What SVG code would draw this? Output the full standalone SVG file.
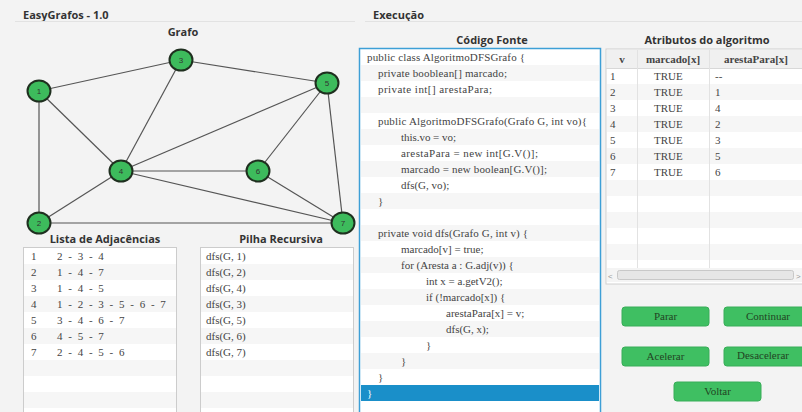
<svg xmlns="http://www.w3.org/2000/svg" width="802" height="412" viewBox="0 0 802 412">
<style>
.h{font-family:"Open Sans","Noto Sans",sans-serif;font-weight:bold;font-size:11px;fill:#333}
.c{font-family:"Liberation Serif",serif;font-size:11px;fill:#444}
.e{stroke:#555;stroke-width:1.2}
.n ellipse{fill:#3dbb5c;stroke:#1f2f1f;stroke-width:2}
.n text{font-family:"Liberation Sans",sans-serif;font-size:8px;fill:#333;text-anchor:middle}
.pan{fill:#fff;stroke:#cccccc;stroke-width:1}
.alt{fill:#f6f6f6}
.btn rect{fill:#3fbf62;stroke:#38ad58}
.btn text{font-family:"Liberation Serif",serif;font-size:11px;fill:#224422;text-anchor:middle}
.th{font-family:"Liberation Serif",serif;font-size:11px;font-weight:bold;fill:#444;text-anchor:middle}
</style>
<rect width="802" height="412" fill="#f3f3f3"/>
<text class="h" x="23" y="19">EasyGrafos - 1.0</text>
<line x1="15" y1="21.5" x2="355" y2="21.5" stroke="#e2e2e2"/>
<text class="h" x="373" y="19">Execução</text>
<line x1="365" y1="21.5" x2="802" y2="21.5" stroke="#e2e2e2"/>
<text class="h" x="183" y="36" text-anchor="middle">Grafo</text>

<g id="edges">
<line class="e" x1="39" y1="91" x2="181" y2="60"/>
<line class="e" x1="39" y1="91" x2="121" y2="171"/>
<line class="e" x1="39" y1="91" x2="39" y2="223"/>
<line class="e" x1="181" y1="60" x2="121" y2="171"/>
<line class="e" x1="181" y1="60" x2="327" y2="83"/>
<line class="e" x1="121" y1="171" x2="327" y2="83"/>
<line class="e" x1="327" y1="83" x2="258" y2="171"/>
<line class="e" x1="327" y1="83" x2="343" y2="223"/>
<line class="e" x1="121" y1="171" x2="258" y2="171"/>
<line class="e" x1="121" y1="171" x2="343" y2="223"/>
<line class="e" x1="258" y1="171" x2="343" y2="223"/>
<line class="e" x1="39" y1="223" x2="121" y2="171"/>
<line class="e" x1="39" y1="223" x2="343" y2="223"/>
</g>
<g id="node1" class="n"><ellipse cx="39" cy="91" rx="11.5" ry="10.5"/><text x="39" y="94">1</text></g>
<g id="node2" class="n"><ellipse cx="39" cy="223" rx="11.5" ry="10.5"/><text x="39" y="226">2</text></g>
<g id="node3" class="n"><ellipse cx="181" cy="60" rx="11.5" ry="10.5"/><text x="181" y="63">3</text></g>
<g id="node4" class="n"><ellipse cx="121" cy="171" rx="11.5" ry="10.5"/><text x="121" y="174">4</text></g>
<g id="node5" class="n"><ellipse cx="327" cy="83" rx="11.5" ry="10.5"/><text x="327" y="86">5</text></g>
<g id="node6" class="n"><ellipse cx="258" cy="171" rx="11.5" ry="10.5"/><text x="258" y="174">6</text></g>
<g id="node7" class="n"><ellipse cx="343" cy="223" rx="11.5" ry="10.5"/><text x="343" y="226">7</text></g>

<g id="lista">
<text class="h" x="105" y="243" text-anchor="middle">Lista de Adjacências</text>
<rect class="pan" x="23.5" y="247.5" width="153" height="170"/>
<rect class="alt" x="24" y="264" width="152" height="16"/>
<rect class="alt" x="24" y="296" width="152" height="16"/>
<rect class="alt" x="24" y="328" width="152" height="16"/>
<rect class="alt" x="24" y="360" width="152" height="16"/>
<rect class="alt" x="24" y="392" width="152" height="16"/>
<g class="c" style="word-spacing:3px">
<text x="31" y="260">1</text><text x="57" y="260">2 - 3 - 4</text>
<text x="31" y="276">2</text><text x="57" y="276">1 - 4 - 7</text>
<text x="31" y="292">3</text><text x="57" y="292">1 - 4 - 5</text>
<text x="31" y="308">4</text><text x="57" y="308">1 - 2 - 3 - 5 - 6 - 7</text>
<text x="31" y="324">5</text><text x="57" y="324">3 - 4 - 6 - 7</text>
<text x="31" y="340">6</text><text x="57" y="340">4 - 5 - 7</text>
<text x="31" y="356">7</text><text x="57" y="356">2 - 4 - 5 - 6</text>
</g>
</g>

<g id="pilha">
<text class="h" x="281" y="243" text-anchor="middle">Pilha Recursiva</text>
<rect class="pan" x="200.5" y="247.5" width="153" height="170"/>
<rect class="alt" x="201" y="264" width="152" height="16"/>
<rect class="alt" x="201" y="296" width="152" height="16"/>
<rect class="alt" x="201" y="328" width="152" height="16"/>
<rect class="alt" x="201" y="360" width="152" height="16"/>
<rect class="alt" x="201" y="392" width="152" height="16"/>
<g class="c">
<text x="206" y="260">dfs(G, 1)</text>
<text x="206" y="276">dfs(G, 2)</text>
<text x="206" y="292">dfs(G, 4)</text>
<text x="206" y="308">dfs(G, 3)</text>
<text x="206" y="324">dfs(G, 5)</text>
<text x="206" y="340">dfs(G, 6)</text>
<text x="206" y="356">dfs(G, 7)</text>
</g>
</g>

<g id="codigo">
<text class="h" x="492" y="44" text-anchor="middle">Código Fonte</text>
<rect x="359.5" y="48.5" width="241" height="370" fill="#fff" stroke="#3d9fd6" stroke-width="1.5"/>
<rect class="alt" x="361" y="65" width="238" height="16"/>
<rect class="alt" x="361" y="97" width="238" height="16"/>
<rect class="alt" x="361" y="129" width="238" height="16"/>
<rect class="alt" x="361" y="161" width="238" height="16"/>
<rect class="alt" x="361" y="193" width="238" height="16"/>
<rect class="alt" x="361" y="225" width="238" height="16"/>
<rect class="alt" x="361" y="257" width="238" height="16"/>
<rect class="alt" x="361" y="289" width="238" height="16"/>
<rect class="alt" x="361" y="321" width="238" height="16"/>
<rect class="alt" x="361" y="353" width="238" height="16"/>
<rect x="361" y="385" width="238" height="16" fill="#1a8fc9"/>
<g class="c" lengthAdjust="spacing">
<text x="367" y="61" textLength="158">public class AlgoritmoDFSGrafo {</text>
<text x="378" y="77" textLength="129">private booblean[] marcado;</text>
<text x="378" y="93" textLength="114">private int[] arestaPara;</text>
<text x="378" y="125" textLength="209">public AlgoritmoDFSGrafo(Grafo G, int vo){</text>
<text x="401" y="141" textLength="55">this.vo = vo;</text>
<text x="401" y="157" textLength="137">arestaPara = new int[G.V()];</text>
<text x="401" y="173" textLength="146">marcado = new boolean[G.V()];</text>
<text x="401" y="189">dfs(G, vo);</text>
<text x="378" y="205">}</text>
<text x="378" y="237" textLength="150">private void dfs(Grafo G, int v) {</text>
<text x="401" y="253">marcado[v] = true;</text>
<text x="401" y="269">for (Aresta a : G.adj(v)) {</text>
<text x="426" y="285">int x = a.getV2();</text>
<text x="426" y="301">if (!marcado[x]) {</text>
<text x="446" y="317">arestaPara[x] = v;</text>
<text x="446" y="333">dfs(G, x);</text>
<text x="426" y="349">}</text>
<text x="401" y="365">}</text>
<text x="378" y="381">}</text>
<text x="367" y="397" fill="#fff">}</text>
</g>
</g>

<g id="atributos">
<text class="h" x="707" y="44" text-anchor="middle">Atributos do algoritmo</text>
<rect x="606" y="49" width="200" height="235" fill="#fff" stroke="#d0d0d0"/>
<rect x="607" y="50" width="195" height="18" fill="#f0f0f0"/>
<line x1="606" y1="68.5" x2="802" y2="68.5" stroke="#d8d8d8"/>
<rect class="alt" x="607" y="84" width="195" height="16"/>
<rect class="alt" x="607" y="116" width="195" height="16"/>
<rect class="alt" x="607" y="148" width="195" height="16"/>
<rect class="alt" x="607" y="180" width="195" height="16"/>
<rect class="alt" x="607" y="212" width="195" height="16"/>
<rect class="alt" x="607" y="244" width="195" height="16"/>
<line x1="637.5" y1="50" x2="637.5" y2="268" stroke="#e2e2e2"/>
<line x1="709.5" y1="50" x2="709.5" y2="268" stroke="#e2e2e2"/>
<text class="th" x="622" y="63">v</text>
<text class="th" x="673" y="63">marcado[x]</text>
<text class="th" x="756" y="63">arestaPara[x]</text>
<g class="c">
<text x="610" y="80">1</text><text x="654" y="80">TRUE</text><text x="715" y="80">--</text>
<text x="610" y="96">2</text><text x="654" y="96">TRUE</text><text x="715" y="96">1</text>
<text x="610" y="112">3</text><text x="654" y="112">TRUE</text><text x="715" y="112">4</text>
<text x="610" y="128">4</text><text x="654" y="128">TRUE</text><text x="715" y="128">2</text>
<text x="610" y="144">5</text><text x="654" y="144">TRUE</text><text x="715" y="144">3</text>
<text x="610" y="160">6</text><text x="654" y="160">TRUE</text><text x="715" y="160">5</text>
<text x="610" y="176">7</text><text x="654" y="176">TRUE</text><text x="715" y="176">6</text>
</g>
<rect x="607" y="268" width="195" height="14" fill="#f4f4f4"/>
<rect x="617.5" y="270.5" width="176" height="9" rx="2" fill="#e6e6e6" stroke="#c8c8c8"/>
<text x="608" y="279" font-family="Liberation Sans,sans-serif" font-size="8" fill="#999">&lt;</text>
<text x="796" y="279" font-family="Liberation Sans,sans-serif" font-size="8" fill="#999">&gt;</text>
</g>

<g id="btnParar" class="btn"><rect x="622" y="307" width="87" height="19" rx="3"/><text x="665.5" y="320">Parar</text></g>
<g id="btnContinuar" class="btn"><rect x="724" y="307" width="85" height="19" rx="3"/><text x="768" y="320">Continuar</text></g>
<g id="btnAcelerar" class="btn"><rect x="622" y="347" width="87" height="19" rx="3"/><text x="665.5" y="360">Acelerar</text></g>
<g id="btnDesacelerar" class="btn"><rect x="724" y="347" width="85" height="19" rx="3"/><text x="763" y="359">Desacelerar</text></g>
<g id="btnVoltar" class="btn"><rect x="674" y="382" width="87" height="19" rx="3"/><text x="717.5" y="395">Voltar</text></g>
</svg>
